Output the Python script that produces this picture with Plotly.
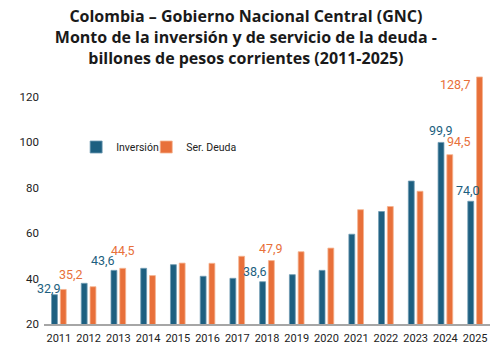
import plotly.graph_objects as go

# ---- data ----
years = [str(y) for y in range(2011, 2026)]
inversion = [32.9, 37.9, 43.6, 44.5, 46.1, 41.0, 40.1, 38.6, 41.7, 43.6, 59.5, 69.5, 82.9, 99.9, 74.0]
ser_deuda = [35.2, 36.4, 44.5, 41.3, 46.8, 46.7, 49.8, 47.9, 51.8, 53.4, 70.3, 71.7, 78.4, 94.5, 128.7]
# years whose values are labelled on the chart
labelled_years = ["2011", "2013", "2018", "2024", "2025"]

# ---- style ----
BLUE = "#1d5f80"
ORANGE = "#e8703a"
FONT = "Roboto, Arial"
TITLE_FONT = "Open Sans, Noto Sans, Arial"

# label offsets (px) relative to category center / bar top: (xshift, yshift)
inv_offsets = {"2011": (-10, 6), "2013": (-15, 10), "2018": (-12, 10), "2024": (-4, 12), "2025": (-7, 11)}
deu_offsets = {"2011": (12, 15), "2013": (5, 18), "2018": (4, 12), "2024": (14, 13), "2025": (-20, -8)}

fig = go.Figure()
fig.add_trace(go.Bar(x=years, y=inversion, name="Inversión", legend="legend",
                     marker=dict(color=BLUE, line=dict(color="#6f9bb3", width=0.8))))
fig.add_trace(go.Bar(x=years, y=ser_deuda, name="Ser. Deuda", legend="legend2",
                     marker=dict(color=ORANGE, line=dict(color="#f5b48f", width=0.8))))

def fmt(v):
    return f"{v:.1f}".replace(".", ",")

annotations = []
for yr in labelled_years:
    i = years.index(yr)  # category index on the x axis
    dx, dy = inv_offsets[yr]
    annotations.append(dict(x=i, y=inversion[i], text=fmt(inversion[i]), showarrow=False,
                            xanchor="center", yanchor="middle", xshift=dx, yshift=dy,
                            font=dict(family=FONT, size=12.5, color=BLUE)))
    dx, dy = deu_offsets[yr]
    annotations.append(dict(x=i, y=ser_deuda[i], text=fmt(ser_deuda[i]), showarrow=False,
                            xanchor="center", yanchor="middle", xshift=dx, yshift=dy,
                            font=dict(family=FONT, size=12.5, color=ORANGE)))

legend_common = dict(orientation="h", yanchor="middle", xanchor="left", itemwidth=30,
                     font=dict(family=FONT, size=10.5, color="#222"), bgcolor="rgba(0,0,0,0)")

PLOT_W = 504 - 24 - 22

fig.update_layout(
    width=504, height=357,
    margin=dict(l=24, r=22, t=66, b=41),
    paper_bgcolor="white", plot_bgcolor="white",
    title=dict(
        text="Colombia – Gobierno Nacional Central (GNC)<br>Monto de la inversión y de servicio de la deuda -<br>billones de pesos corrientes (2011-2025)",
        x=0.472, xanchor="center", xref="container", y=1 - 14 / 357, yanchor="top", yref="container",
        font=dict(family=TITLE_FONT, size=16, color="#1a1a1a", weight="bold"),
    ),
    barmode="group", bargap=0.41, bargroupgap=0.33,
    showlegend=True,
    legend=dict(x=33 / PLOT_W, y=0.708, **legend_common),
    legend2=dict(x=105 / PLOT_W, y=0.708, **legend_common),
    xaxis=dict(type="category", range=[-0.5, len(years) - 0.5],
               showline=True, linecolor="#a6a6a6", linewidth=1.5, ticklabelstandoff=3,
               ticks="", showgrid=False, tickfont=dict(family=FONT, size=11, color="#222")),
    yaxis=dict(range=[20, 130], dtick=20, tick0=20, showgrid=False, zeroline=False, showline=False,
               ticks="", ticklabelstandoff=4,
               tickfont=dict(family=FONT, size=11.5, color="#222")),
    annotations=annotations,
)

fig.write_html("out.html")
